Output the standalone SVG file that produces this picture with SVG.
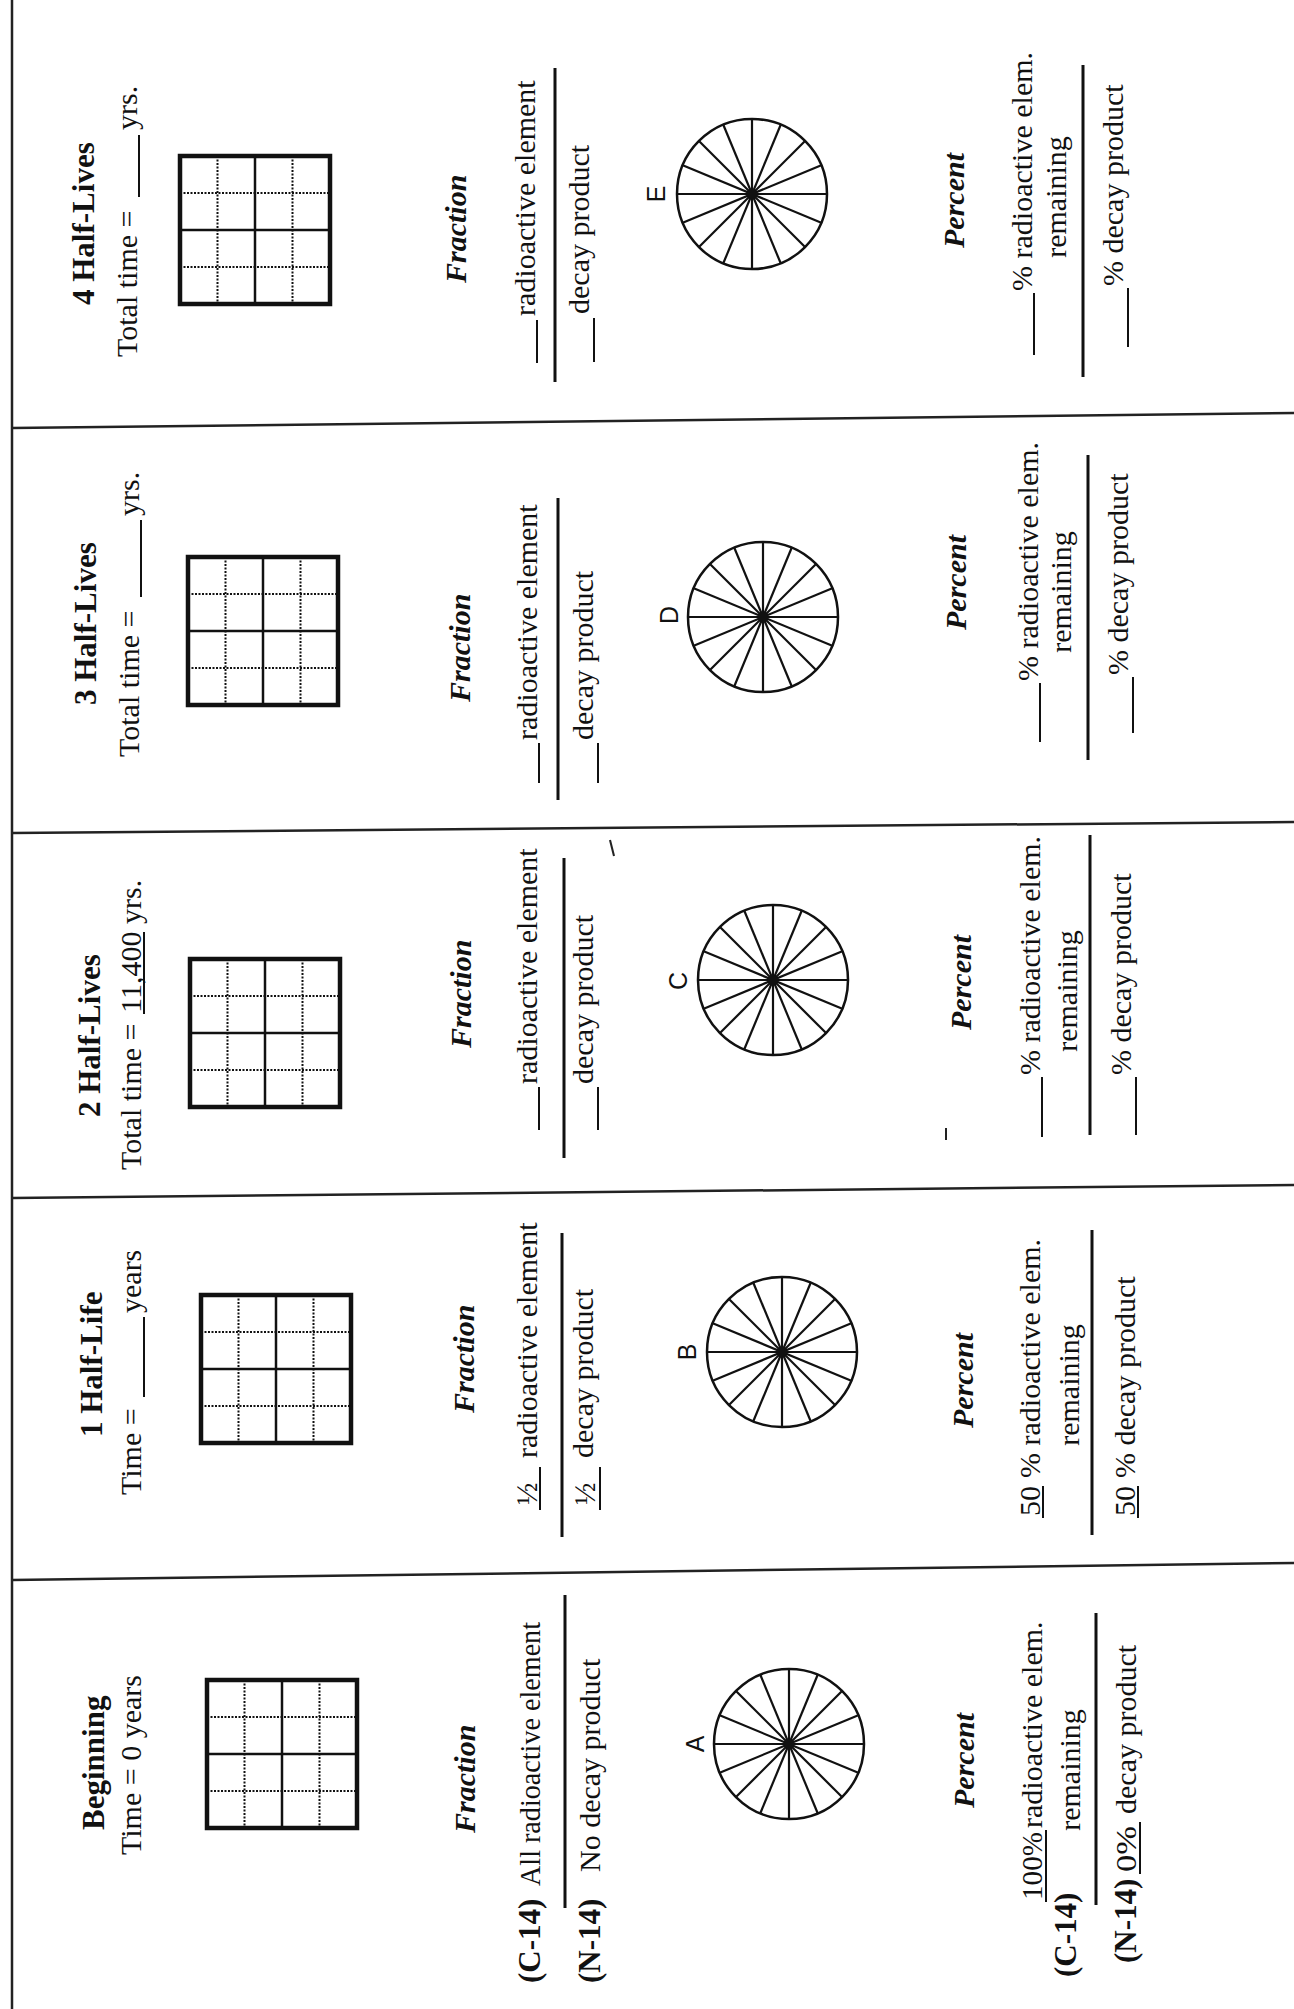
<svg xmlns="http://www.w3.org/2000/svg" xmlns:xlink="http://www.w3.org/1999/xlink" width="1294" height="2009" viewBox="0 0 1294 2009">
<style>
.t{font-family:"Liberation Serif","Times New Roman",serif;font-size:30px;fill:#111}
.b{font-weight:bold;font-size:31px}
.bi{font-weight:bold;font-style:italic;font-size:30px}
.s{font-family:"Liberation Sans",Arial,sans-serif;font-size:25px;fill:#111;text-anchor:middle}
.m{text-anchor:middle}
.blank{stroke:#111;stroke-width:2}
.div{stroke:#111;stroke-width:3}
.rule{stroke:#222;stroke-width:2.5}
</style>
<defs>
<g id="grid">
<rect x="0" y="0" width="150" height="148" fill="none" stroke="#111" stroke-width="4.5"/>
<line x1="75" y1="0" x2="75" y2="148" stroke="#111" stroke-width="2.5"/>
<line x1="0" y1="74" x2="150" y2="74" stroke="#111" stroke-width="2.5"/>
<g stroke="#111" stroke-width="2" stroke-dasharray="2 1.5">
<line x1="37.5" y1="0" x2="37.5" y2="148"/>
<line x1="112.5" y1="0" x2="112.5" y2="148"/>
<line x1="0" y1="37" x2="150" y2="37"/>
<line x1="0" y1="111" x2="150" y2="111"/>
</g>
</g>
<g id="wheel">
<circle cx="0" cy="0" r="75" fill="none" stroke="#111" stroke-width="2.5"/>
<g stroke="#111" stroke-width="2.2">
<line x1="75" y1="0" x2="-75" y2="0"/>
<line x1="69.29" y1="28.7" x2="-69.29" y2="-28.7"/>
<line x1="53.03" y1="53.03" x2="-53.03" y2="-53.03"/>
<line x1="28.7" y1="69.29" x2="-28.7" y2="-69.29"/>
<line x1="0" y1="75" x2="0" y2="-75"/>
<line x1="-28.7" y1="69.29" x2="28.7" y2="-69.29"/>
<line x1="-53.03" y1="53.03" x2="53.03" y2="-53.03"/>
<line x1="-69.29" y1="28.7" x2="69.29" y2="-28.7"/>
</g>
<circle cx="0" cy="0" r="5.5" fill="#111"/>
</g>
</defs>
<rect x="0" y="0" width="1294" height="2009" fill="#fff"/>

<g id="connectors">
<line class="rule" x1="12" y1="0" x2="12" y2="2009"/>
<line class="rule" x1="12" y1="428" x2="1294" y2="413"/>
<line class="rule" x1="12" y1="833" x2="1294" y2="822"/>
<line class="rule" x1="12" y1="1198" x2="1294" y2="1185"/>
<line class="rule" x1="12" y1="1580" x2="1294" y2="1563"/>
<line stroke="#222" stroke-width="2" x1="610" y1="840" x2="614" y2="856"/>
<line stroke="#222" stroke-width="2" x1="946" y1="1128" x2="946" y2="1140"/>
</g>

<g id="half-lives-4">
<text class="t b" transform="translate(94,305) rotate(-90)">4 Half-Lives</text>
<text class="t" transform="translate(137,357) rotate(-90)">Total time =</text>
<line class="blank" x1="139" y1="197" x2="139" y2="135"/>
<text class="t" transform="translate(137,130) rotate(-90)">yrs.</text>
<use xlink:href="#grid" href="#grid" x="180" y="156"/>
<text class="t bi" transform="translate(466,283) rotate(-90)">Fraction</text>
<line class="blank" x1="537" y1="363" x2="537" y2="320"/>
<text class="t" transform="translate(535,316) rotate(-90)">radioactive element</text>
<line class="div" x1="555" y1="68" x2="555" y2="382"/>
<line class="blank" x1="594" y1="362" x2="594" y2="318"/>
<text class="t" transform="translate(589,314) rotate(-90)">decay product</text>
<text class="s" transform="translate(665,194) rotate(-90)">E</text>
<use xlink:href="#wheel" href="#wheel" x="752" y="194"/>
<text class="t bi" transform="translate(964,248) rotate(-90)">Percent</text>
<line class="blank" x1="1034" y1="355" x2="1034" y2="293"/>
<text class="t" transform="translate(1032,291) rotate(-90)">% radioactive elem.</text>
<text class="t m" transform="translate(1066,197) rotate(-90)">remaining</text>
<line class="div" x1="1083" y1="65" x2="1083" y2="377"/>
<line class="blank" x1="1128" y1="347" x2="1128" y2="288"/>
<text class="t" transform="translate(1123,286) rotate(-90)">% decay product</text>
</g>

<g id="half-lives-3">
<text class="t b" transform="translate(96,705) rotate(-90)">3 Half-Lives</text>
<text class="t" transform="translate(139,757) rotate(-90)">Total time =</text>
<line class="blank" x1="141" y1="597" x2="141" y2="520"/>
<text class="t" transform="translate(139,516) rotate(-90)">yrs.</text>
<use xlink:href="#grid" href="#grid" x="188" y="557"/>
<text class="t bi" transform="translate(470,702) rotate(-90)">Fraction</text>
<line class="blank" x1="539" y1="783" x2="539" y2="743"/>
<text class="t" transform="translate(537,740) rotate(-90)">radioactive element</text>
<line class="div" x1="558" y1="498" x2="558" y2="800"/>
<line class="blank" x1="598" y1="783" x2="598" y2="743"/>
<text class="t" transform="translate(593,740) rotate(-90)">decay product</text>
<text class="s" transform="translate(678,615) rotate(-90)">D</text>
<use xlink:href="#wheel" href="#wheel" x="763" y="617"/>
<text class="t bi" transform="translate(966,630) rotate(-90)">Percent</text>
<line class="blank" x1="1040" y1="742" x2="1040" y2="683"/>
<text class="t" transform="translate(1038,681) rotate(-90)">% radioactive elem.</text>
<text class="t m" transform="translate(1071,592) rotate(-90)">remaining</text>
<line class="div" x1="1088" y1="455" x2="1088" y2="760"/>
<line class="blank" x1="1133" y1="733" x2="1133" y2="677"/>
<text class="t" transform="translate(1128,675) rotate(-90)">% decay product</text>
</g>

<g id="half-lives-2">
<text class="t b" transform="translate(100,1117) rotate(-90)">2 Half-Lives</text>
<text class="t" transform="translate(141,1170) rotate(-90)">Total time =</text>
<text class="t" transform="translate(141,1013) rotate(-90)">11,400</text>
<line class="blank" x1="144" y1="1014" x2="144" y2="932"/>
<text class="t" transform="translate(141,924) rotate(-90)">yrs.</text>
<use xlink:href="#grid" href="#grid" x="190" y="959"/>
<text class="t bi" transform="translate(471,1048) rotate(-90)">Fraction</text>
<line class="blank" x1="539" y1="1130" x2="539" y2="1087"/>
<text class="t" transform="translate(537,1084) rotate(-90)">radioactive element</text>
<line class="div" x1="564" y1="858" x2="564" y2="1158"/>
<line class="blank" x1="598" y1="1130" x2="598" y2="1087"/>
<text class="t" transform="translate(593,1084) rotate(-90)">decay product</text>
<text class="s" transform="translate(687,981) rotate(-90)">C</text>
<use xlink:href="#wheel" href="#wheel" x="773" y="980"/>
<text class="t bi" transform="translate(971,1030) rotate(-90)">Percent</text>
<line class="blank" x1="1042" y1="1137" x2="1042" y2="1077"/>
<text class="t" transform="translate(1040,1075) rotate(-90)">% radioactive elem.</text>
<text class="t m" transform="translate(1077,991) rotate(-90)">remaining</text>
<line class="div" x1="1090" y1="835" x2="1090" y2="1135"/>
<line class="blank" x1="1136" y1="1135" x2="1136" y2="1077"/>
<text class="t" transform="translate(1131,1075) rotate(-90)">% decay product</text>
</g>

<g id="half-life-1">
<text class="t b" transform="translate(102,1437) rotate(-90)">1 Half-Life</text>
<text class="t" transform="translate(141,1495) rotate(-90)">Time =</text>
<line class="blank" x1="144" y1="1397" x2="144" y2="1317"/>
<text class="t" transform="translate(141,1313) rotate(-90)">years</text>
<use xlink:href="#grid" href="#grid" x="201" y="1295"/>
<text class="t bi" transform="translate(474,1413) rotate(-90)">Fraction</text>
<text class="t" transform="translate(537,1505) rotate(-90)">½</text>
<line class="blank" x1="540" y1="1510" x2="540" y2="1467"/>
<text class="t" transform="translate(537,1458) rotate(-90)">radioactive element</text>
<line class="div" x1="562" y1="1233" x2="562" y2="1537"/>
<text class="t" transform="translate(595,1505) rotate(-90)">½</text>
<line class="blank" x1="600" y1="1510" x2="600" y2="1467"/>
<text class="t" transform="translate(593,1458) rotate(-90)">decay product</text>
<text class="s" transform="translate(696,1352) rotate(-90)">B</text>
<use xlink:href="#wheel" href="#wheel" x="782" y="1352"/>
<text class="t bi" transform="translate(973,1428) rotate(-90)">Percent</text>
<text class="t" transform="translate(1040,1516) rotate(-90)">50</text>
<line class="blank" x1="1043" y1="1518" x2="1043" y2="1486"/>
<text class="t" transform="translate(1040,1478) rotate(-90)">% radioactive elem.</text>
<text class="t m" transform="translate(1079,1385) rotate(-90)">remaining</text>
<line class="div" x1="1092" y1="1230" x2="1092" y2="1535"/>
<text class="t" transform="translate(1135,1516) rotate(-90)">50</text>
<line class="blank" x1="1138" y1="1518" x2="1138" y2="1486"/>
<text class="t" transform="translate(1135,1478) rotate(-90)">% decay product</text>
</g>

<g id="beginning">
<text class="t b" transform="translate(104,1830) rotate(-90)">Beginning</text>
<text class="t" transform="translate(141,1855) rotate(-90)">Time = 0 years</text>
<use xlink:href="#grid" href="#grid" x="207" y="1680"/>
<text class="t bi" transform="translate(475,1833) rotate(-90)">Fraction</text>
<text class="t b" transform="translate(540,1983) rotate(-90)">(C-14)</text>
<text class="t" transform="translate(540,1886) rotate(-90)" textLength="264" lengthAdjust="spacingAndGlyphs">All radioactive element</text>
<line class="div" x1="565" y1="1595" x2="565" y2="1908"/>
<text class="t b" transform="translate(600,1983) rotate(-90)">(N-14)</text>
<text class="t" transform="translate(600,1872) rotate(-90)">No decay product</text>
<text class="s" transform="translate(704,1744) rotate(-90)">A</text>
<use xlink:href="#wheel" href="#wheel" x="789" y="1744"/>
<text class="t bi" transform="translate(974,1808) rotate(-90)">Percent</text>
<text class="t b" transform="translate(1076,1977) rotate(-90)">(C-14)</text>
<text class="t" transform="translate(1042,1900) rotate(-90)" textLength="68" lengthAdjust="spacingAndGlyphs">100%</text>
<line class="blank" x1="1046" y1="1902" x2="1046" y2="1830"/>
<text class="t" transform="translate(1042,1828) rotate(-90)">radioactive elem.</text>
<text class="t m" transform="translate(1080,1770) rotate(-90)">remaining</text>
<line class="div" x1="1096" y1="1613" x2="1096" y2="1905"/>
<text class="t b" transform="translate(1136,1963) rotate(-90)">(N-14)</text>
<text class="t" transform="translate(1136,1872) rotate(-90)" textLength="46" lengthAdjust="spacingAndGlyphs">0%</text>
<line class="blank" x1="1140" y1="1874" x2="1140" y2="1822"/>
<text class="t" transform="translate(1136,1814) rotate(-90)">decay product</text>
</g>
</svg>
